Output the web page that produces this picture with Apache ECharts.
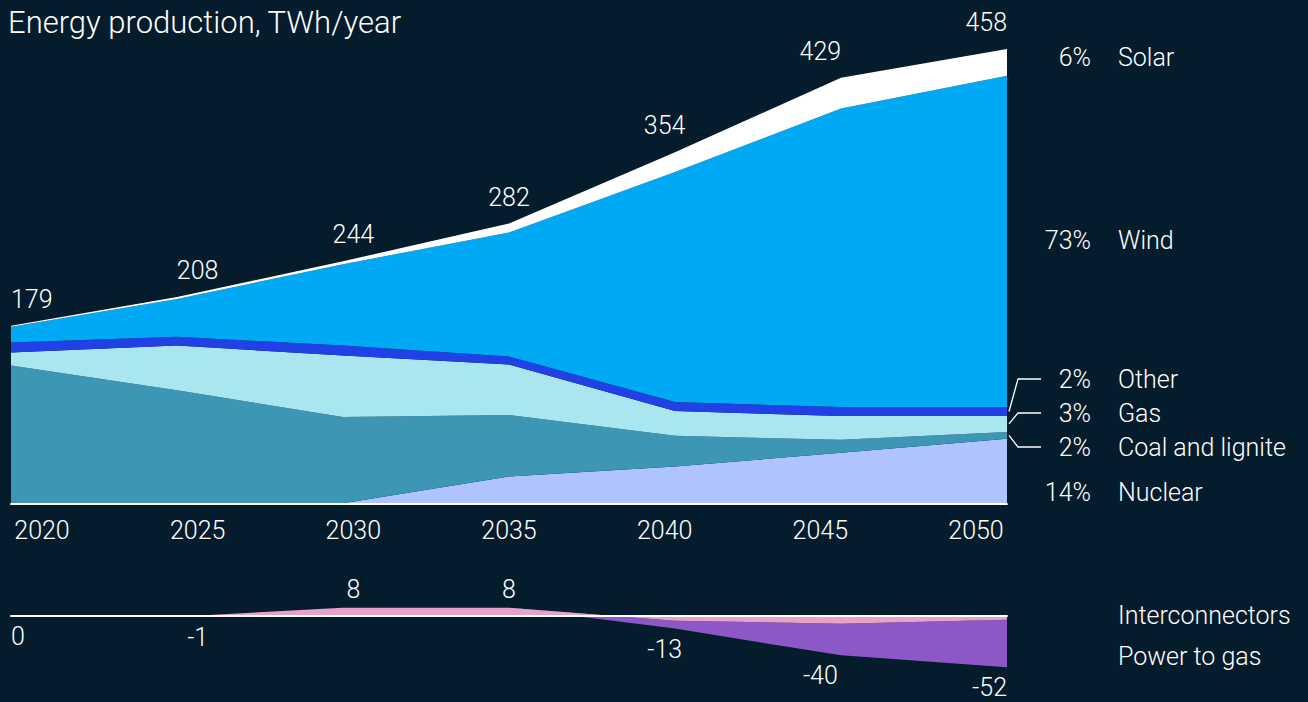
<!DOCTYPE html>
<html><head><meta charset="utf-8">
<script src="https://cdn.jsdelivr.net/npm/echarts@6/dist/echarts.min.js"></script>
<style>html,body{margin:0;padding:0;background:#051c2c;}#c{width:1308px;height:702px;}</style>
</head><body><div id="c"></div>
<script>
// ---- data ----
const years = ['2020', '2025', '2030', '2035', '2040', '2045', '2050'];
const nuclear = [0, 0, 0, 27, 37, 51, 65];
const coal = [139, 114, 87, 62, 31, 13, 7];
const gas = [13, 45, 62, 51, 25, 24, 16];
const other = [10, 9, 10, 8, 9, 9, 9];
const wind = [16, 38, 82, 125, 232, 301, 334];
const solar = [1, 2, 3, 9, 20, 31, 27];
const totals = [179, 208, 244, 282, 354, 429, 458];
const interconnectors = [0, -1, 8, 8, -5, -8, -4];
const powerToGas = [0, 0, 0, 0, -8, -32, -48];
const netBalance = [0, -1, 8, 8, -13, -40, -52];
const layerNames = ['Nuclear', 'Coal and lignite', 'Gas', 'Other', 'Wind', 'Solar'];
const layerShares = ['14%', '2%', '3%', '2%', '73%', '6%'];
const balanceNames = ['Interconnectors', 'Power to gas'];

// ---- styles ----
const BG = '#051c2c';
const FONT = 'Roboto';
const FS = 25;
const FW = 300;
const TXT = '#ffffff';
const layerColors = ['#afc3ff', '#3c96b4', '#aae6f0', '#2140e6', '#00a9f4', '#ffffff'];
const balColors = ['#e8a1c8', '#8b58c6'];
const layerData = [nuclear, coal, gas, other, wind, solar];

const chart = echarts.init(document.getElementById('c'), null, {renderer: 'svg'});

const series = [];
layerData.forEach((d, i) => {
  series.push({
    name: layerNames[i], type: 'line', stack: 'prod', data: d,
    xAxisIndex: 0, yAxisIndex: 0, symbol: 'none', silent: true,
    lineStyle: {width: 0}, areaStyle: {color: layerColors[i], opacity: 1}, z: 2
  });
});
series.push({
  type: 'scatter', xAxisIndex: 1, yAxisIndex: 1, symbolSize: 0.1, silent: true,
  itemStyle: {color: BG, opacity: 1},
  data: totals.map((v, i) => {
    const o = {value: v};
    if (i === 0) o.label = {align: 'left', offset: [-31, 0]};
    if (i === totals.length - 1) o.label = {align: 'right', offset: [31, 0]};
    return o;
  }),
  label: {show: true, position: 'top', distance: 14, color: TXT, fontSize: FS, fontFamily: FONT, fontWeight: FW}
});
[interconnectors, powerToGas].forEach((d, i) => {
  series.push({
    name: balanceNames[i], type: 'line', stack: 'bal', data: d,
    xAxisIndex: 2, yAxisIndex: 2, symbol: 'none', silent: true,
    lineStyle: {width: 0}, areaStyle: {color: balColors[i], opacity: 1}, z: i === 0 ? 3 : 2
  });
});
series.push({
  type: 'scatter', xAxisIndex: 3, yAxisIndex: 3, symbolSize: 0.1, silent: true,
  itemStyle: {color: BG, opacity: 1},
  data: netBalance.map((v, i) => {
    const lab = {position: v > 0 ? 'top' : 'bottom', distance: v > 0 ? 6 : 8};
    if (i === 0) { lab.align = 'left'; lab.offset = [-31, 0]; }
    if (i === netBalance.length - 1) { lab.align = 'right'; lab.offset = [31, 0]; }
    return {value: v, label: lab};
  }),
  label: {show: true, color: TXT, fontSize: FS, fontFamily: FONT, fontWeight: FW}
});

const hiddenY = (min, max, g) => ({type: 'value', gridIndex: g, min: min, max: max, show: false});

chart.setOption({
  backgroundColor: BG,
  animation: false,
  title: {text: 'Energy production, TWh/year', left: 3, top: 2,
    textStyle: {color: TXT, fontSize: 31, fontFamily: FONT, fontWeight: FW}},
  grid: [
    {left: 11, right: 301, top: 47, bottom: 198.7},
    {left: 42, right: 332, top: 47, bottom: 198.7},
    {left: 11, right: 301, top: 605.8, bottom: 26.8},
    {left: 42, right: 332, top: 605.8, bottom: 26.8}
  ],
  xAxis: [
    {type: 'category', gridIndex: 0, data: years, boundaryGap: false, z: 5,
      axisLine: {lineStyle: {color: '#ffffff', width: 2}}, axisTick: {show: false}, axisLabel: {show: false}},
    {type: 'category', gridIndex: 1, data: years, boundaryGap: false,
      axisLine: {show: false}, axisTick: {show: false},
      axisLabel: {color: TXT, fontSize: FS, fontFamily: FONT, fontWeight: FW, margin: 15}},
    {type: 'category', gridIndex: 2, data: years, boundaryGap: false, z: 10,
      axisLine: {onZero: true, lineStyle: {color: '#ffffff', width: 2}}, axisTick: {show: false}, axisLabel: {show: false}},
    {type: 'category', gridIndex: 3, data: years, boundaryGap: false, show: false}
  ],
  yAxis: [hiddenY(0, 460, 0), hiddenY(0, 460, 1), hiddenY(-60, 10, 2), hiddenY(-60, 10, 3)],
  series: series
});

// ---- right-hand labels with leaders ----
const labelY = [492, 447, 413, 379, 240, 57];
const leaderLayers = [1, 2, 3];
const graphics = [];
const lastIdx = years.length - 1;
const labelFont = FW + ' ' + FS + 'px ' + FONT;
let cum = 0;
layerData.forEach((d, i) => {
  const v = d[lastIdx];
  const mid = cum + v / 2;
  cum += v;
  const y = labelY[i];
  graphics.push({type: 'text', x: 1091, y: y, silent: true,
    style: {text: layerShares[i], fill: TXT, font: labelFont, textAlign: 'right', textVerticalAlign: 'middle'}});
  graphics.push({type: 'text', x: 1118, y: y, silent: true,
    style: {text: layerNames[i], fill: TXT, font: labelFont, textAlign: 'left', textVerticalAlign: 'middle'}});
  if (leaderLayers.indexOf(i) >= 0) {
    const p = chart.convertToPixel({gridIndex: 0}, [lastIdx, mid]);
    graphics.push({type: 'polyline', silent: true,
      shape: {points: [[p[0] + 2, p[1]], [p[0] + 11, y], [p[0] + 34, y]]},
      style: {stroke: '#ffffff', lineWidth: 1.3, fill: null}});
  }
});
const balY = [615, 656];
balanceNames.forEach((n, i) => {
  graphics.push({type: 'text', x: 1118, y: balY[i], silent: true,
    style: {text: n, fill: TXT, font: labelFont, textAlign: 'left', textVerticalAlign: 'middle'}});
});
chart.setOption({graphic: graphics});
</script></body></html>
